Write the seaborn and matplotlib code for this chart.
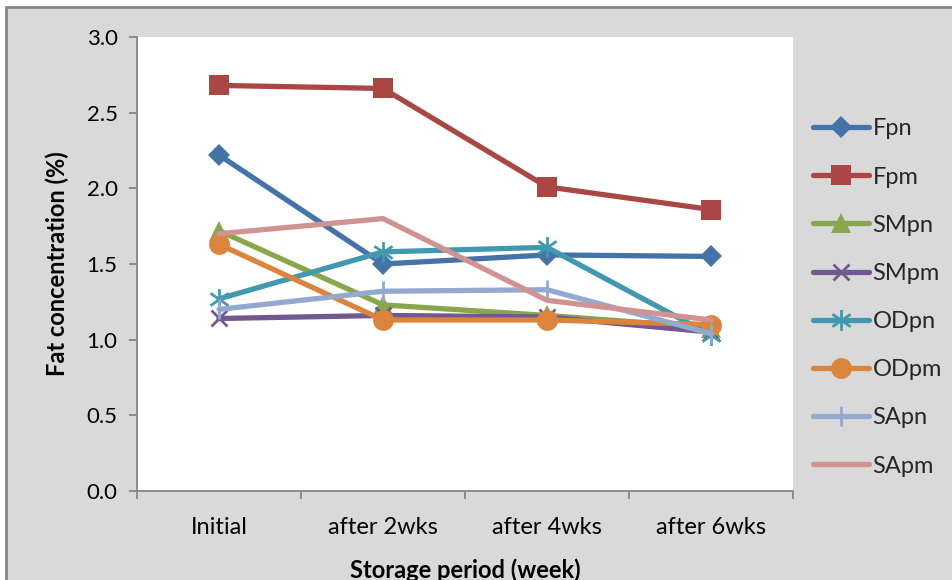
import matplotlib
matplotlib.use("Agg")
import matplotlib.pyplot as plt
from matplotlib.patches import Rectangle
from matplotlib.lines import Line2D
from matplotlib.path import Path
import seaborn as sns
import pandas as pd

# Storage periods and fat concentration (%) per sample
periods = ["Initial", "after 2wks", "after 4wks", "after 6wks"]
Fpn  = [2.22, 1.50, 1.56, 1.55]
Fpm  = [2.68, 2.66, 2.01, 1.86]
SMpn = [1.72, 1.23, 1.16, 1.08]
SMpm = [1.14, 1.16, 1.15, 1.05]
ODpn = [1.27, 1.58, 1.61, 1.03]
ODpm = [1.63, 1.13, 1.13, 1.10]
SApn = [1.20, 1.32, 1.33, 1.04]
SApm = [1.70, 1.80, 1.26, 1.13]
yticks = [0.0, 0.5, 1.0, 1.5, 2.0, 2.5, 3.0]

series = {"Fpn": Fpn, "Fpm": Fpm, "SMpn": SMpn, "SMpm": SMpm,
          "ODpn": ODpn, "ODpm": ODpm, "SApn": SApn, "SApm": SApm}

# Asterisk marker: vertical stroke plus two diagonals
asterisk = Path([(0, -1), (0, 1), (-0.87, -0.6), (0.87, 0.6),
                 (-0.87, 0.6), (0.87, -0.6)],
                [Path.MOVETO, Path.LINETO, Path.MOVETO, Path.LINETO,
                 Path.MOVETO, Path.LINETO])

styles = {
    "Fpn":  dict(color="#4572A7", marker="D", ms=11, mew=0),
    "Fpm":  dict(color="#AA4643", marker="s", ms=15, mew=0),
    "SMpn": dict(color="#89A54E", marker="^", ms=14, mew=0),
    "SMpm": dict(color="#71588F", marker="x", ms=11, mew=2),
    "ODpn": dict(color="#4198AF", marker=asterisk, ms=15, mew=2),
    "ODpm": dict(color="#DB843D", marker="o", ms=15, mew=0),
    "SApn": dict(color="#93A9CF", marker="|", ms=15, mew=2),
    "SApm": dict(color="#D19392", marker=None, ms=0, mew=0),
}

sns.set_theme(style="white")
plt.rcParams["font.family"] = ["Lato", "DejaVu Sans"]

fig = plt.figure(figsize=(9.53, 5.8), dpi=100)
fig.patch.set_facecolor("white")

# Chart-area background with its outline, kept behind the axes
bg = Rectangle((6 / 953, -0.01), 1.0, (580 - 7) / 580 + 0.01,
               transform=fig.transFigure, facecolor="#D9D9D9",
               edgecolor="#868686", linewidth=2, zorder=-10)
fig.patches.append(bg)

ax = fig.add_axes([137 / 953, 1 - 491 / 580, (793 - 137) / 953, (491 - 37) / 580])
ax.set_facecolor("white")
ax.set_zorder(1)

df = pd.DataFrame([(name, p, v) for name, vals in series.items()
                   for p, v in zip(periods, vals)],
                  columns=["sample", "period", "fat"])

handles = []
for name in series:
    st = styles[name]
    sub = df[df["sample"] == name]
    sns.lineplot(data=sub, x="period", y="fat", ax=ax, sort=False,
                 color=st["color"], linewidth=3.8,
                 marker=st["marker"], markersize=st["ms"],
                 markeredgewidth=st["mew"], markeredgecolor=st["color"],
                 markerfacecolor=st["color"], legend=False)
    handles.append(Line2D([], [], color=st["color"], linewidth=3.8,
                          marker=st["marker"], markersize=st["ms"],
                          markeredgewidth=st["mew"],
                          markeredgecolor=st["color"],
                          markerfacecolor=st["color"], label=name))

ax.set_xlim(-0.5, len(periods) - 0.5)
ax.set_ylim(0, 3.0)
ax.set_yticks(yticks)
ax.set_yticklabels([f"{t:.1f}" for t in yticks])
ax.set_xticks(range(len(periods)))
ax.set_xticklabels(periods)
ax.set_xticks([i - 0.5 for i in range(len(periods) + 1)], minor=True)

for side in ["top", "right"]:
    ax.spines[side].set_visible(False)
for side in ["left", "bottom"]:
    ax.spines[side].set_color("#868686")
    ax.spines[side].set_linewidth(1.3)

ax.tick_params(axis="y", which="major", direction="out", length=6,
               width=1.3, color="#868686", labelsize=16, pad=8,
               left=True, labelcolor="black")
ax.tick_params(axis="x", which="major", length=0, labelsize=17, pad=19,
               labelcolor="black")
ax.tick_params(axis="x", which="minor", direction="out", length=6,
               width=1.3, color="#868686", bottom=True)

ax.set_xlabel("Storage period (week)", fontsize=17, fontweight="bold",
              color="black")
ax.set_ylabel("Fat concentration (%)", fontsize=17, fontweight="bold",
              color="black")
ax.xaxis.set_label_coords(0.5, -(558 - 491) / 454, transform=ax.transAxes)
ax.yaxis.set_label_coords(-(137 - 69) / 656, 0.5, transform=ax.transAxes)

fig.legend(handles=handles, loc="upper left",
           bbox_to_anchor=(804 / 953, 1 - 109 / 580),
           frameon=False, fontsize=17, handlelength=2.35,
           handletextpad=0.15, labelspacing=1.15, borderaxespad=0)

fig.savefig("out.png", dpi=100, facecolor=fig.get_facecolor())
